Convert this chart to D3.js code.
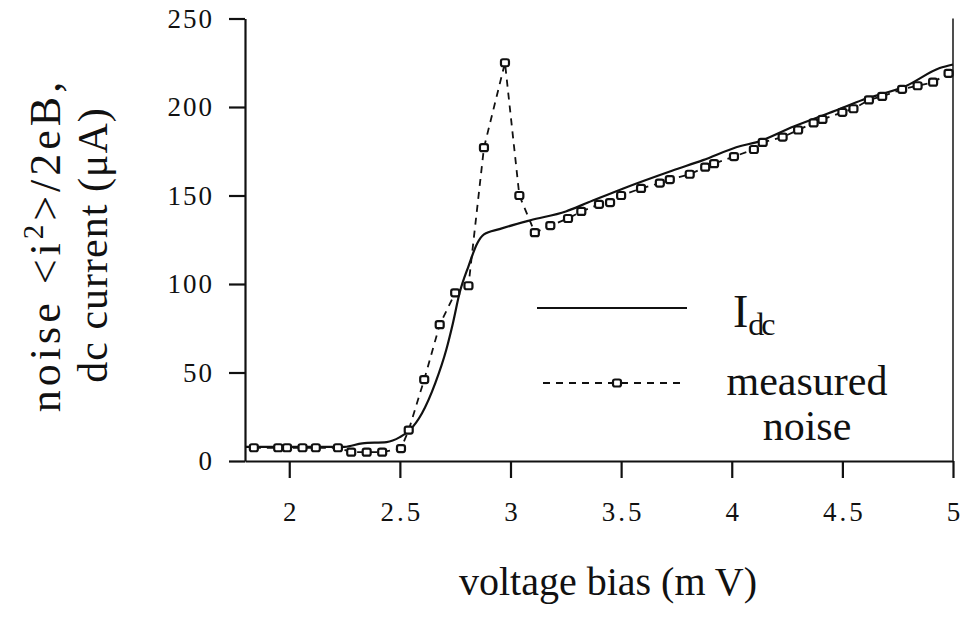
<!DOCTYPE html>
<html>
<head>
<meta charset="utf-8">
<script src="https://cdn.jsdelivr.net/npm/d3@7"></script>
<style>
  body { margin: 0; background: #fff; }
  svg text { font-family: "Liberation Serif", "DejaVu Serif", serif; }
</style>
</head>
<body>
<svg id="chart" width="960" height="618"></svg>
<script>
// dc current curve (mV, uA)
const idcV = [1.8, 2.0, 2.25, 2.33, 2.44, 2.5, 2.545, 2.6, 2.66, 2.71, 2.74, 2.77, 2.81, 2.85, 2.88, 2.95, 3.09, 3.25, 3.35, 3.51, 3.73, 3.87, 4.04, 4.11, 4.28, 4.47, 4.59, 4.79, 4.94, 5.0];
const idcI = [8, 8, 8, 10, 10.7, 13.5, 17.5, 27, 44, 63, 78, 95, 110, 123, 128, 131, 136, 141, 146, 154, 164, 170, 178, 180, 189, 198, 204, 212, 222, 224];

// measured noise points
const noiseV = [1.84, 1.95, 1.99, 2.06, 2.12, 2.22, 2.28, 2.35, 2.42, 2.505, 2.54, 2.61, 2.68, 2.75, 2.81, 2.88, 2.975, 3.04, 3.11, 3.18, 3.26, 3.32, 3.40, 3.45, 3.5, 3.59, 3.675, 3.72, 3.81, 3.88, 3.92, 4.01, 4.10, 4.14, 4.23, 4.30, 4.37, 4.41, 4.50, 4.55, 4.62, 4.68, 4.77, 4.84, 4.91, 4.98];
const noiseI = [7.5, 7.5, 7.5, 7.5, 7.5, 7.5, 5, 5, 5, 7, 17.5, 46, 77, 95, 99, 177, 225, 150, 129, 133, 137, 141, 145, 146, 150, 154, 157, 159, 162, 166, 168, 172, 176, 180, 183, 187, 191, 193, 197, 199, 204, 206, 210, 212, 214, 219];

const xTicks = [2, 2.5, 3, 3.5, 4, 4.5, 5];
const yTicks = [0, 50, 100, 150, 200, 250];

const svg = d3.select("#chart");
const x = d3.scaleLinear().domain([1.8, 5]).range([245, 953]);
const y = d3.scaleLinear().domain([0, 250]).range([461, 18.5]);

// minor ticks
const xMinor = d3.range(18, 51).map(d => d / 10);
const yMinor = d3.range(0, 251, 10);

const gx = svg.append("g").attr("transform", "translate(0," + y(0) + ")");
gx.call(d3.axisBottom(x).tickValues(xMinor).tickSize(5).tickSizeOuter(0).tickFormat(""));
gx.call(d3.axisBottom(x).tickValues(xTicks).tickSize(17).tickSizeOuter(0).tickFormat(d => d));
gx.selectAll("text").attr("y", 60).attr("dy", 0).attr("font-size", 27)
  .attr("letter-spacing", d => Number.isInteger(d) ? 0 : 3)
  .attr("dx", d => Number.isInteger(d) ? 0 : 1.5)
  .attr("fill", "#111");

const gy = svg.append("g").attr("transform", "translate(" + x(1.8) + ",0)");
gy.call(d3.axisLeft(y).tickValues(yMinor).tickSize(6).tickSizeOuter(0).tickFormat(""));
gy.call(d3.axisLeft(y).tickValues(yTicks).tickSize(16).tickSizeOuter(0).tickFormat(d => d));
gy.selectAll("text").attr("x", -31).attr("font-size", 27).attr("letter-spacing", 2)
  .attr("fill", "#111");

svg.selectAll(".domain, .tick line").attr("stroke", "#111").attr("stroke-width", 2.2);

// right frame
svg.append("line")
  .attr("x1", x(5)).attr("x2", x(5)).attr("y1", y(250)).attr("y2", y(0))
  .attr("stroke", "#222").attr("stroke-width", 1.6);

// Idc solid line
const idc = idcV.map((v, i) => [v, idcI[i]]);
svg.append("path")
  .datum(idc)
  .attr("fill", "none").attr("stroke", "#111").attr("stroke-width", 2.2)
  .attr("d", d3.line().x(d => x(d[0])).y(d => y(d[1])).curve(d3.curveMonotoneX));

// noise dashed line + squares
const noise = noiseV.map((v, i) => [v, noiseI[i]]);
svg.append("path")
  .datum(noise)
  .attr("fill", "none").attr("stroke", "#111").attr("stroke-width", 1.8)
  .attr("stroke-dasharray", "7,6")
  .attr("d", d3.line().x(d => x(d[0])).y(d => y(d[1])));

svg.append("g").selectAll("rect")
  .data(noise)
  .enter().append("rect")
  .attr("x", d => x(d[0]) - 4).attr("y", d => y(d[1]) - 3.5)
  .attr("width", 8).attr("height", 7).attr("rx", 2)
  .attr("fill", "#fff").attr("stroke", "#111").attr("stroke-width", 2.2);

// legend
const leg = svg.append("g");
leg.append("line").attr("x1", 537).attr("x2", 687).attr("y1", 308).attr("y2", 308)
  .attr("stroke", "#111").attr("stroke-width", 2.2);
const idcLabel = leg.append("text").attr("x", 733).attr("y", 327).attr("font-size", 46).attr("fill", "#111");
idcLabel.append("tspan").text("I");
idcLabel.append("tspan").attr("dy", 8).attr("font-size", 32).attr("letter-spacing", -3).text("dc");

leg.append("line").attr("x1", 543).attr("x2", 683).attr("y1", 383).attr("y2", 383)
  .attr("stroke", "#111").attr("stroke-width", 1.8).attr("stroke-dasharray", "7,6");
leg.append("rect").attr("x", 613).attr("y", 379.5).attr("width", 8).attr("height", 7).attr("rx", 2)
  .attr("fill", "#fff").attr("stroke", "#111").attr("stroke-width", 2.2);
leg.append("text").attr("x", 807).attr("y", 395).attr("text-anchor", "middle")
  .attr("font-size", 42).attr("fill", "#111").text("measured");
leg.append("text").attr("x", 807).attr("y", 440).attr("text-anchor", "middle")
  .attr("font-size", 42).attr("fill", "#111").text("noise");

// axis titles
svg.append("text").attr("x", 608).attr("y", 595).attr("text-anchor", "middle")
  .attr("font-size", 40).attr("fill", "#111").text("voltage bias (m V)");

const yt = svg.append("g").attr("transform", "translate(0,245) rotate(-90)");
const l1 = yt.append("text").attr("x", 0).attr("y", 60).attr("text-anchor", "middle")
  .attr("font-size", 44).attr("letter-spacing", 4).attr("fill", "#111");
l1.append("tspan").text("noise <i");
l1.append("tspan").attr("dy", -17).attr("font-size", 29).text("2");
l1.append("tspan").attr("dy", 17).text(">/2eB,");
yt.append("text").attr("x", 0).attr("y", 107).attr("text-anchor", "middle")
  .attr("font-size", 42).attr("letter-spacing", 1).attr("fill", "#111").text("dc current (\u03bcA)");
</script>
</body>
</html>
